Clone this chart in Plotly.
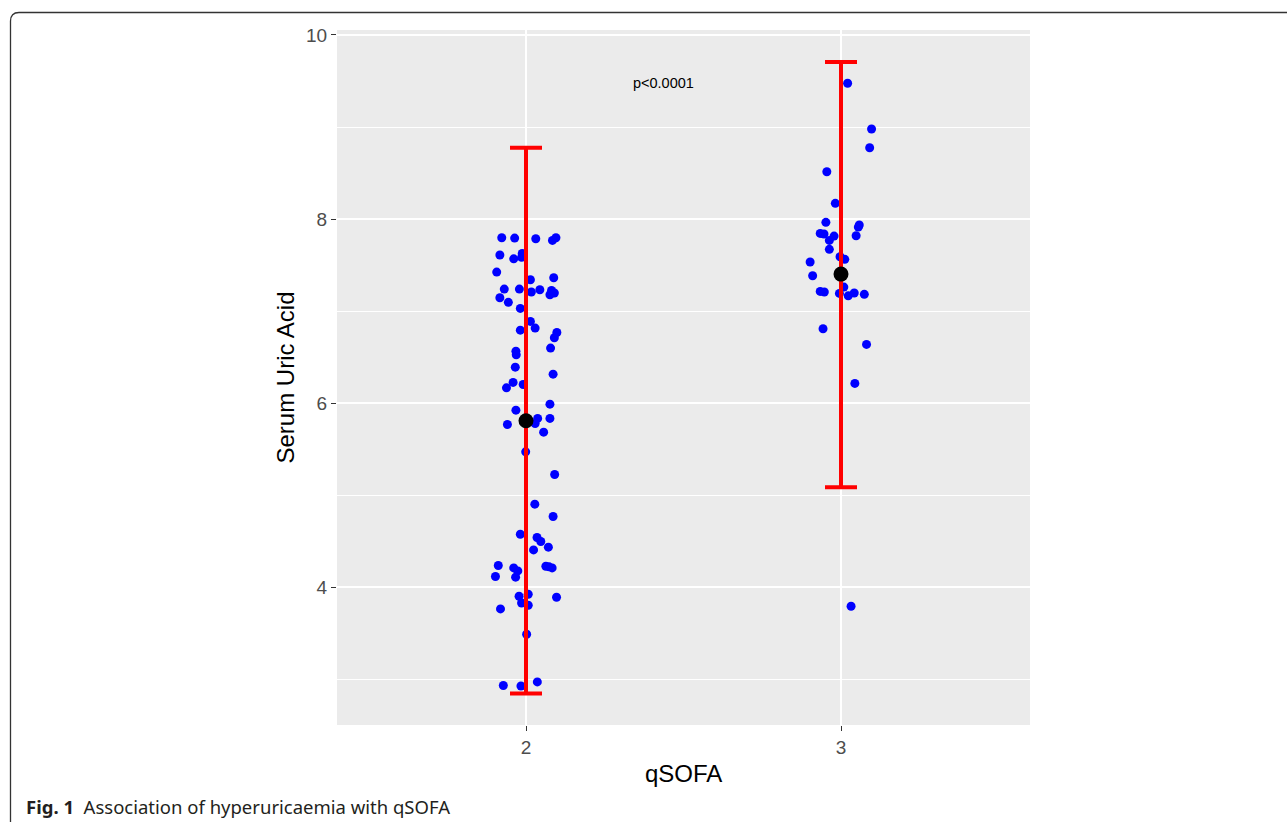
import plotly.graph_objects as go

# ---- data ----
groups = [2, 3]
group_means = [5.808, 7.402]
err_upper = [8.775, 9.707]
err_lower = [2.845, 5.087]

g2_x = [1.923, 1.964, 2.031, 2.084, 2.095, 1.917, 1.961, 1.988, 1.986, 1.907,
        2.088, 2.014, 1.931, 1.979, 2.017, 2.044, 2.076, 2.090, 2.081, 1.917,
        1.944, 1.982, 2.014, 2.029, 1.982, 2.098, 2.090, 2.078, 1.968, 1.969,
        1.966, 2.086, 1.959, 1.938, 1.991, 2.076, 1.968, 1.941, 2.037, 2.076,
        2.029, 2.056, 1.999, 2.091, 2.028, 2.086, 1.982, 2.035, 2.047, 2.071,
        2.024, 1.912, 1.961, 1.974, 1.903, 1.967, 2.063, 2.073, 2.083, 1.978,
        2.007, 2.097, 1.986, 2.007, 1.919, 2.002, 1.928, 1.984, 2.036]
g2_y = [7.797, 7.793, 7.786, 7.768, 7.797, 7.609, 7.568, 7.627, 7.584, 7.424,
        7.362, 7.340, 7.239, 7.239, 7.207, 7.232, 7.177, 7.196, 7.225, 7.145,
        7.095, 7.029, 6.888, 6.815, 6.793, 6.768, 6.710, 6.598, 6.565, 6.525,
        6.391, 6.315, 6.225, 6.166, 6.203, 5.989, 5.924, 5.768, 5.834, 5.834,
        5.779, 5.685, 5.471, 5.225, 4.902, 4.768, 4.576, 4.540, 4.497, 4.435,
        4.405, 4.236, 4.210, 4.177, 4.116, 4.109, 4.228, 4.221, 4.210, 3.902,
        3.924, 3.891, 3.829, 3.804, 3.764, 3.489, 2.932, 2.927, 2.971]

g3_x = [3.021, 3.097, 3.091, 2.955, 2.982, 2.952, 3.058, 3.055, 2.934, 2.946,
        2.978, 3.048, 2.963, 2.963, 2.997, 3.012, 2.902, 2.910, 3.009, 2.934,
        2.947, 2.995, 3.023, 3.042, 3.074, 2.943, 3.081, 3.044, 3.032]
g3_y = [9.475, 8.978, 8.775, 8.514, 8.171, 7.964, 7.935, 7.913, 7.844, 7.837,
        7.815, 7.818, 7.768, 7.671, 7.590, 7.562, 7.533, 7.384, 7.261, 7.214,
        7.207, 7.192, 7.166, 7.196, 7.182, 6.808, 6.638, 6.214, 3.793]

y_ticks = [4, 6, 8, 10]
y_minor = [3, 5, 7, 9]
x_ticks = [2, 3]
x_tick_labels = ["2", "3"]

p_text = "p<0.0001"
caption_bold = "Fig. 1"
caption_text = "Association of hyperuricaemia with qSOFA"

# ---- figure ----
fig = go.Figure()

fig.add_trace(go.Scatter(
    x=g2_x + g3_x, y=g2_y + g3_y, mode="markers",
    marker=dict(color="#0000FF", size=9, line=dict(width=0)),
    showlegend=False, hoverinfo="skip"))

fig.add_trace(go.Scatter(
    x=groups, y=group_means, mode="markers",
    marker=dict(color="rgba(0,0,0,0)", size=1),
    error_y=dict(type="data", symmetric=False,
                 array=[u - m for u, m in zip(err_upper, group_means)],
                 arrayminus=[m - l for m, l in zip(group_means, err_lower)],
                 color="#FF0000", thickness=4, width=16),
    showlegend=False, hoverinfo="skip"))

fig.add_trace(go.Scatter(
    x=groups, y=group_means, mode="markers",
    marker=dict(color="#000000", size=15, line=dict(width=0)),
    showlegend=False, hoverinfo="skip"))

W, H = 1287, 822
L, R, T, B = 337, 1030, 30, 725


def px(x):
    return (x - L) / (R - L)


def py(y):
    return (B - y) / (B - T)


fig.update_layout(
    width=W, height=H,
    margin=dict(l=L, r=W - R, t=T, b=H - B, pad=0),
    paper_bgcolor="white", plot_bgcolor="#EBEBEB",
    font=dict(family="Liberation Sans, Arial, sans-serif", color="#000000"),
    xaxis=dict(range=[1.4, 3.6], tickvals=x_ticks, ticktext=x_tick_labels,
               showgrid=True, gridcolor="white", gridwidth=2,
               zeroline=False, showline=False,
               ticks="outside", ticklen=5, tickwidth=1, tickcolor="#333333",
               tickfont=dict(size=19, color="#4D4D4D")),
    yaxis=dict(range=[2.503, 10.054], tickvals=y_ticks,
               showgrid=True, gridcolor="white", gridwidth=2,
               zeroline=False, showline=False,
               ticks="outside", ticklen=5, tickwidth=1, tickcolor="#333333",
               tickfont=dict(size=19, color="#4D4D4D"),
               minor=dict(tickvals=y_minor, showgrid=True, gridcolor="white",
                          gridwidth=1, ticks="")),
)

# axis titles
fig.add_annotation(text="Serum Uric Acid", xref="paper", yref="paper",
                   x=px(285), y=0.5, textangle=-90, showarrow=False,
                   xanchor="center", yanchor="middle",
                   font=dict(size=24, color="#000000"))
fig.add_annotation(text="qSOFA", xref="paper", yref="paper",
                   x=0.5, y=py(773), showarrow=False,
                   xanchor="center", yanchor="middle",
                   font=dict(size=24, color="#000000"))

# p-value label
fig.add_annotation(text=p_text, x=2.435, y=9.48, xref="x", yref="y",
                   showarrow=False, font=dict(size=14.5, color="#000000"))

# caption
fig.add_annotation(text="<b>" + caption_bold + "</b>  " + caption_text,
                   xref="paper", yref="paper", x=px(24), y=py(806),
                   xanchor="left", yanchor="middle", showarrow=False,
                   font=dict(family="Noto Sans, sans-serif", size=18.5,
                             color="#231F20"))

# frame
x0, x1 = px(10.5), px(19)
xr = px(1300)
y0, y1 = py(12.5), py(21)
yb = py(840)
fig.add_shape(type="path", xref="paper", yref="paper",
              path=f"M {xr},{y0} L {x1},{y0} Q {x0},{y0} {x0},{y1} L {x0},{yb}",
              line=dict(color="#333333", width=1.3))

fig.write_html("out.html", config={"displayModeBar": False},
               post_script="document.body.style.margin='0';document.body.style.overflow='hidden';")
